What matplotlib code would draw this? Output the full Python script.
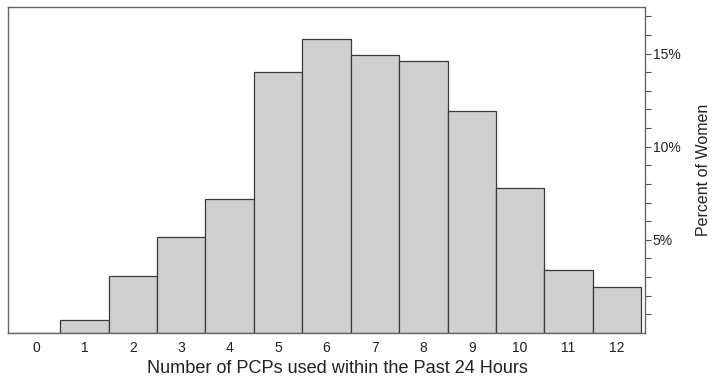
import numpy as np
import matplotlib.pyplot as plt
from matplotlib.ticker import FixedLocator, FuncFormatter

plt.rcParams['font.family'] = ['Liberation Sans', 'DejaVu Sans']

# PCP counts and percent of women
pcps = [0, 1, 2, 3, 4, 5, 6, 7, 8, 9, 10, 11, 12]
percent = [0.0, 0.7, 3.06, 5.14, 7.2, 14.03, 15.79, 14.9, 14.62, 11.94, 7.78, 3.37, 2.49]

fig = plt.figure(figsize=(7.14, 3.8), dpi=100)
ax = fig.add_axes([0.0112, 0.1237, 0.8922, 0.8579])

ax.bar(pcps, percent, width=1.0, color='#d0d0d0', edgecolor='#3a3a3a', linewidth=0.9)

ax.set_xlim(-0.58, 12.58)
ax.set_ylim(0, 17.5)

ax.set_xticks(pcps)
ax.tick_params(axis='x', length=0, pad=6, labelsize=10, colors='#222222')

ax.yaxis.tick_right()
ax.yaxis.set_label_position('right')
ax.yaxis.set_major_locator(FixedLocator([5, 10, 15]))
ax.yaxis.set_minor_locator(FixedLocator([i for i in range(1, 18) if i % 5]))
ax.yaxis.set_major_formatter(FuncFormatter(lambda v, p: f'{v:.0f}%'))
ax.tick_params(axis='y', which='both', direction='out', length=4, width=0.8,
               color='#555555', labelsize=10, pad=1.5)
ax.tick_params(axis='y', which='major', labelcolor='#222222')

for s in ax.spines.values():
    s.set_color('#666666')
    s.set_linewidth(1.0)

ax.set_xlabel('Number of PCPs used within the Past 24 Hours', fontsize=13.1,
              color='#222222', labelpad=3)
ax.xaxis.set_label_coords(0.517, -0.083)
ax.set_ylabel('Percent of Women', fontsize=11.5, color='#222222', labelpad=11)

plt.savefig('out.png', dpi=100)
plt.close()
